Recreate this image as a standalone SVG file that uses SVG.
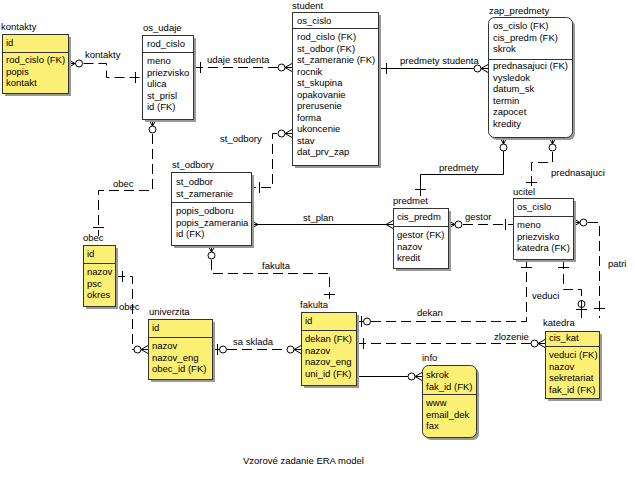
<svg xmlns="http://www.w3.org/2000/svg" width="635" height="489" viewBox="0 0 635 489">
<style>
.bg{fill:#fff}
.box{fill:#fff;stroke:#333;stroke-width:1}
.y{fill:#fbef74}
.sh{fill:#9a9a9a}
.dv{stroke:#333;stroke-width:1}
text{font-family:"Liberation Sans",Arial,sans-serif;font-size:9.5px;fill:#000}
.ln{fill:none;stroke:#000;stroke-width:1}
.d{stroke-dasharray:10,5}
.c{fill:#fff;stroke:#000;stroke-width:1}
</style>
<rect class="bg" x="0" y="0" width="635" height="489"/>

<g id="connectors">
  <!-- kontakty -->
  <path class="ln d" d="M68.5,63.5 H106.5 V77.5 H142"/>
  <path class="ln" d="M68,59.5 L75,63.5 M68,63.5 H75 M68,67.5 L75,63.5 M135.5,72 V83"/>
  <circle class="c" cx="79" cy="63.5" r="3.5"/>
  <text x="85" y="58">kontakty</text>

  <!-- udaje studenta -->
  <path class="ln d" d="M193,67.5 H292"/>
  <path class="ln" d="M200.5,62 V73 M292,63.5 L285,67.5 M292,67.5 H285 M292,71.5 L285,67.5"/>
  <circle class="c" cx="281.5" cy="67.5" r="3.5"/>
  <text x="207" y="63">udaje studenta</text>

  <!-- predmety studenta -->
  <path class="ln" d="M378,68.5 H488 M386.5,63 V74 M488,64.5 L481,68.5 M488,72.5 L481,68.5"/>
  <circle class="c" cx="477.5" cy="68.5" r="3.5"/>
  <text x="400" y="64">predmety studenta</text>

  <!-- st_odbory -->
  <path class="ln d" d="M292,133.5 H272.5 V187.5 H251"/>
  <path class="ln" d="M292,129.5 L285,133.5 M292,133.5 H285 M292,137.5 L285,133.5 M259.5,182 V193"/>
  <circle class="c" cx="281.5" cy="133.5" r="3.5"/>
  <text x="220" y="142">st_odbory</text>

  <!-- obec (os_udaje - obec) -->
  <path class="ln d" d="M152.5,119 V190.5 H98.5 V236"/>
  <path class="ln" d="M148.5,119 L152.5,126 M152.5,119 V126 M156.5,119 L152.5,126 M93,227.5 H104"/>
  <circle class="c" cx="152.5" cy="129.5" r="3.5"/>
  <text x="113" y="187">obec</text>

  <!-- obec (obec - univerzita) -->
  <path class="ln d" d="M115,276.5 H132.5 V349.5 H148"/>
  <path class="ln" d="M122.5,271 V282 M148,345.5 L141,349.5 M148,349.5 H141 M148,353.5 L141,349.5"/>
  <circle class="c" cx="137.5" cy="349.5" r="3.5"/>
  <text x="119" y="310">obec</text>

  <!-- sa sklada -->
  <path class="ln d" d="M212,349.5 H301"/>
  <path class="ln" d="M217.5,344 V355 M301,345.5 L294,349.5 M301,349.5 H294 M301,353.5 L294,349.5"/>
  <circle class="c" cx="223" cy="349.5" r="3.5"/>
  <circle class="c" cx="290.5" cy="349.5" r="3.5"/>
  <text x="233" y="345">sa sklada</text>

  <!-- fakulta (st_odbory - fakulta) -->
  <path class="ln d" d="M211.5,245 V273.5 H329.5 V299"/>
  <path class="ln" d="M207.5,245 L211.5,252 M211.5,245 V252 M215.5,245 L211.5,252 M324,294.5 H335"/>
  <circle class="c" cx="211.5" cy="255.5" r="3.5"/>
  <text x="262" y="269">fakulta</text>

  <!-- st_plan -->
  <path class="ln" d="M251,224.5 H393 M251,220.5 L258,224.5 M251,228.5 L258,224.5 M393,220.5 L386,224.5 M393,228.5 L386,224.5"/>
  <text x="303" y="221">st_plan</text>

  <!-- predmety -->
  <path class="ln" d="M503.5,137 V174.5 H420.5 V196 M499.5,137 L503.5,144 M507.5,137 L503.5,144 M415,189.5 H426"/>
  <circle class="c" cx="503.5" cy="147.5" r="3.5"/>
  <text x="439" y="171">predmety</text>

  <!-- prednasajuci -->
  <path class="ln d" d="M552.5,137 V162.5 H531.5 V189"/>
  <path class="ln" d="M548.5,137 L552.5,144 M552.5,137 V144 M556.5,137 L552.5,144 M526,182.5 H537"/>
  <circle class="c" cx="552.5" cy="147.5" r="3.5"/>
  <text x="551" y="176">prednasajuci</text>

  <!-- gestor -->
  <path class="ln d" d="M448,224.5 H513"/>
  <path class="ln" d="M448,220.5 L455,224.5 M448,224.5 H455 M448,228.5 L455,224.5 M505.5,219 V230"/>
  <circle class="c" cx="458.5" cy="224.5" r="3.5"/>
  <text x="465" y="220">gestor</text>

  <!-- dekan -->
  <path class="ln d" d="M356,321.5 H526.5 V259"/>
  <path class="ln" d="M361.5,316 V327 M521,267.5 H532"/>
  <circle class="c" cx="367" cy="321.5" r="3.5"/>
  <text x="417" y="316">dekan</text>

  <!-- zlozenie -->
  <path class="ln d" d="M356,343.5 H545"/>
  <path class="ln" d="M363.5,338 V349 M545,339.5 L538,343.5 M545,343.5 H538 M545,347.5 L538,343.5"/>
  <circle class="c" cx="534.5" cy="343.5" r="3.5"/>
  <text x="494" y="340">zlozenie</text>

  <!-- info -->
  <path class="ln" d="M356,376.5 H422 M422,372.5 L415,376.5 M422,380.5 L415,376.5"/>
  <circle class="c" cx="411.5" cy="376.5" r="3.5"/>

  <!-- veduci -->
  <path class="ln d" d="M563.5,259 V289.5 H581.5 V318"/>
  <path class="ln" d="M558,267.5 H569 M576,309.5 H587"/>
  <circle class="c" cx="581.5" cy="304" r="3.5"/>
  <path class="ln" d="M581.5,300 V318"/>
  <text x="532" y="299">veduci</text>

  <!-- patri -->
  <path class="ln d" d="M573,222.5 H599.5 V318"/>
  <path class="ln" d="M573,218.5 L580,222.5 M573,222.5 H580 M573,226.5 L580,222.5 M594,308.5 H605"/>
  <circle class="c" cx="583.5" cy="222.5" r="3.5"/>
  <text x="608" y="267">patri</text>
</g>

<g id="kontakty">
  <rect class="sh" x="5" y="37" width="66" height="59"/>
  <rect class="box y" x="2.5" y="34.5" width="66" height="59"/>
  <line class="dv" x1="2.5" y1="52.5" x2="68.5" y2="52.5"/>
  <text x="1" y="30">kontakty</text>
  <text x="6" y="46">id</text>
  <text x="6" y="63">rod_cislo (FK)</text>
  <text x="6" y="74.5">popis</text>
  <text x="6" y="86">kontakt</text>
</g>

<g id="os_udaje">
  <rect class="sh" x="145" y="38" width="51" height="84"/>
  <rect class="box" x="142.5" y="35.5" width="51" height="84"/>
  <line class="dv" x1="142.5" y1="52.5" x2="193.5" y2="52.5"/>
  <text x="143" y="31">os_udaje</text>
  <text x="147" y="47">rod_cislo</text>
  <text x="147" y="64">meno</text>
  <text x="147" y="75.5">priezvisko</text>
  <text x="147" y="87">ulica</text>
  <text x="147" y="98.5">st_prisl</text>
  <text x="147" y="110">id (FK)</text>
</g>

<g id="student">
  <rect class="sh" x="295" y="15" width="86" height="153"/>
  <rect class="box" x="292.5" y="12.5" width="86" height="153"/>
  <line class="dv" x1="292.5" y1="28.5" x2="378.5" y2="28.5"/>
  <text x="292" y="9">student</text>
  <text x="297" y="24">os_cislo</text>
  <text x="297" y="40">rod_cislo (FK)</text>
  <text x="297" y="51.5">st_odbor (FK)</text>
  <text x="297" y="63">st_zameranie (FK)</text>
  <text x="297" y="74.5">rocnik</text>
  <text x="297" y="86">st_skupina</text>
  <text x="297" y="97.5">opakovanie</text>
  <text x="297" y="109">prerusenie</text>
  <text x="297" y="120.5">forma</text>
  <text x="297" y="132">ukoncenie</text>
  <text x="297" y="143.5">stav</text>
  <text x="297" y="155">dat_prv_zap</text>
</g>

<g id="zap_predmety">
  <rect class="sh" x="491" y="20" width="84" height="120" rx="6"/>
  <rect class="box" x="488.5" y="17.5" width="84" height="120" rx="6"/>
  <line class="dv" x1="488.5" y1="59.5" x2="572.5" y2="59.5"/>
  <text x="489" y="14">zap_predmety</text>
  <text x="493" y="29">os_cislo (FK)</text>
  <text x="493" y="40.5">cis_predm (FK)</text>
  <text x="493" y="52">skrok</text>
  <text x="493" y="69">prednasajuci (FK)</text>
  <text x="493" y="80.5">vysledok</text>
  <text x="493" y="92">datum_sk</text>
  <text x="493" y="103.5">termin</text>
  <text x="493" y="115">zapocet</text>
  <text x="493" y="126.5">kredity</text>
</g>

<g id="st_odbory">
  <rect class="sh" x="174" y="175" width="80" height="73"/>
  <rect class="box" x="171.5" y="172.5" width="80" height="73"/>
  <line class="dv" x1="171.5" y1="202.5" x2="251.5" y2="202.5"/>
  <text x="172" y="168">st_odbory</text>
  <text x="176" y="185">st_odbor</text>
  <text x="176" y="196.5">st_zameranie</text>
  <text x="176" y="214">popis_odboru</text>
  <text x="176" y="225.5">popis_zamerania</text>
  <text x="176" y="237">id (FK)</text>
</g>

<g id="predmet">
  <rect class="sh" x="396" y="211" width="55" height="60"/>
  <rect class="box" x="393.5" y="208.5" width="55" height="60"/>
  <line class="dv" x1="393.5" y1="226.5" x2="448.5" y2="226.5"/>
  <text x="393" y="204">predmet</text>
  <text x="397" y="220">cis_predm</text>
  <text x="397" y="238">gestor (FK)</text>
  <text x="397" y="249.5">nazov</text>
  <text x="397" y="261">kredit</text>
</g>

<g id="ucitel">
  <rect class="sh" x="516" y="201" width="60" height="61"/>
  <rect class="box" x="513.5" y="198.5" width="60" height="61"/>
  <line class="dv" x1="513.5" y1="216.5" x2="573.5" y2="216.5"/>
  <text x="513" y="195">ucitel</text>
  <text x="517" y="210">os_cislo</text>
  <text x="517" y="228">meno</text>
  <text x="517" y="239.5">priezvisko</text>
  <text x="517" y="251">katedra (FK)</text>
</g>

<g id="obec">
  <rect class="sh" x="86" y="248" width="32" height="61"/>
  <rect class="box y" x="83.5" y="245.5" width="32" height="61"/>
  <line class="dv" x1="83.5" y1="263.5" x2="115.5" y2="263.5"/>
  <text x="83" y="241">obec</text>
  <text x="87" y="257">id</text>
  <text x="87" y="275">nazov</text>
  <text x="87" y="286.5">psc</text>
  <text x="87" y="298">okres</text>
</g>

<g id="univerzita">
  <rect class="sh" x="151" y="322" width="64" height="60"/>
  <rect class="box y" x="148.5" y="319.5" width="64" height="60"/>
  <line class="dv" x1="148.5" y1="337.5" x2="212.5" y2="337.5"/>
  <text x="149" y="315">univerzita</text>
  <text x="152" y="331">id</text>
  <text x="152" y="349">nazov</text>
  <text x="152" y="360.5">nazov_eng</text>
  <text x="152" y="372">obec_id (FK)</text>
</g>

<g id="fakulta">
  <rect class="sh" x="304" y="315" width="55" height="73"/>
  <rect class="box y" x="301.5" y="312.5" width="55" height="73"/>
  <line class="dv" x1="301.5" y1="330.5" x2="356.5" y2="330.5"/>
  <text x="300" y="308">fakulta</text>
  <text x="305" y="324">id</text>
  <text x="305" y="342">dekan (FK)</text>
  <text x="305" y="353.5">nazov</text>
  <text x="305" y="365">nazov_eng</text>
  <text x="305" y="376.5">uni_id (FK)</text>
</g>

<g id="info">
  <rect class="sh" x="425" y="368" width="54" height="72" rx="6"/>
  <rect class="box y" x="422.5" y="365.5" width="54" height="72" rx="6"/>
  <line class="dv" x1="422.5" y1="394.5" x2="476.5" y2="394.5"/>
  <text x="422" y="361">info</text>
  <text x="426" y="378">skrok</text>
  <text x="426" y="389.5">fak_id (FK)</text>
  <text x="426" y="406">www</text>
  <text x="426" y="417.5">email_dek</text>
  <text x="426" y="429">fax</text>
</g>

<g id="katedra">
  <rect class="sh" x="548" y="334" width="54" height="67"/>
  <rect class="box y" x="545.5" y="331.5" width="54" height="67"/>
  <line class="dv" x1="545.5" y1="346.5" x2="599.5" y2="346.5"/>
  <text x="543" y="326">katedra</text>
  <text x="549" y="341">cis_kat</text>
  <text x="549" y="358">veduci (FK)</text>
  <text x="549" y="369.5">nazov</text>
  <text x="549" y="381">sekretariat</text>
  <text x="549" y="392.5">fak_id (FK)</text>
</g>

<text x="243" y="464">Vzorové zadanie ERA model</text>
</svg>
